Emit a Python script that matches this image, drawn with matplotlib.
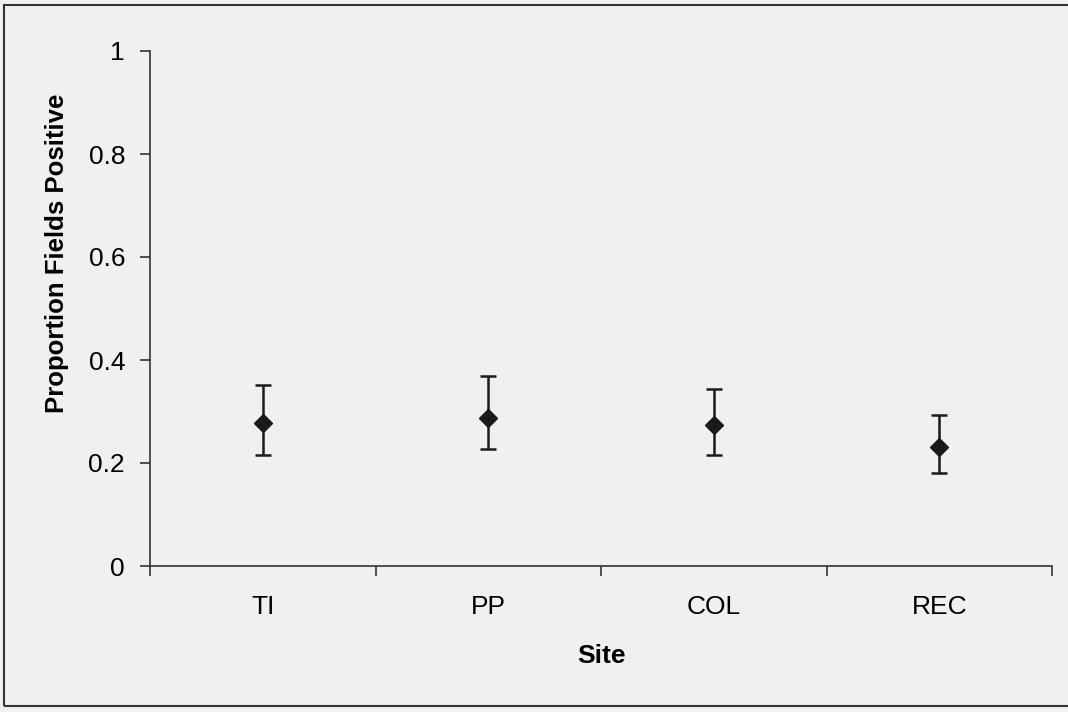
import matplotlib
matplotlib.use("Agg")
import matplotlib.pyplot as plt
import numpy as np
from matplotlib.patches import Rectangle

# values
sites = ["TI", "PP", "COL", "REC"]
proportion = [0.278, 0.288, 0.274, 0.232]
upper_ci = [0.351, 0.368, 0.343, 0.293]
lower_ci = [0.216, 0.227, 0.216, 0.180]

plt.rcParams["font.family"] = ["Liberation Sans", "DejaVu Sans"]

bg = "#f0f0ef"
fig = plt.figure(figsize=(10.68, 7.12), dpi=100, facecolor=bg)
ax = fig.add_axes([150 / 1068, 1 - 566 / 712, 902 / 1068, 515 / 712], facecolor=bg)

# outer chart frame (right edge cut off in the scan)
fig.patches.append(Rectangle((4 / 1068, 6 / 712), 1.1, 701 / 712,
                             transform=fig.transFigure, fill=False,
                             edgecolor="#333333", linewidth=1.5, zorder=0))

x = np.arange(len(sites))
y = np.array(proportion)
yerr = [y - np.array(lower_ci), np.array(upper_ci) - y]
ax.errorbar(x, y, yerr=yerr, fmt="D", color="#1a1a1a", markersize=9,
            elinewidth=1.8, capsize=6, capthick=1.8)

ax.set_xlim(-0.5, len(sites) - 0.5)
ax.set_ylim(0, 1)
ax.set_yticks([0, 0.2, 0.4, 0.6, 0.8, 1])
ax.set_yticklabels(["0", "0.2", "0.4", "0.6", "0.8", "1"])
ax.set_xticks(x)
ax.set_xticklabels(sites)
ax.set_xticks(np.arange(len(sites) + 1) - 0.5, minor=True)
ax.tick_params(axis="x", which="major", length=0, pad=21, labelsize=19)
ax.tick_params(axis="x", which="minor", length=7, width=1.2, color="#333333")
ax.tick_params(axis="y", length=7, width=1.2, color="#333333", labelsize=19, pad=11)

for side in ("top", "right"):
    ax.spines[side].set_visible(False)
for side in ("left", "bottom"):
    ax.spines[side].set_color("#333333")
    ax.spines[side].set_linewidth(1.2)

ax.set_xlabel("Site", fontsize=19, fontweight="bold", labelpad=18)
ax.set_ylabel("Proportion Fields Positive", fontsize=18.5, fontweight="bold")
ax.yaxis.set_label_coords(-0.09, 0.608)

fig.savefig("out.png", dpi=100, facecolor=bg)
